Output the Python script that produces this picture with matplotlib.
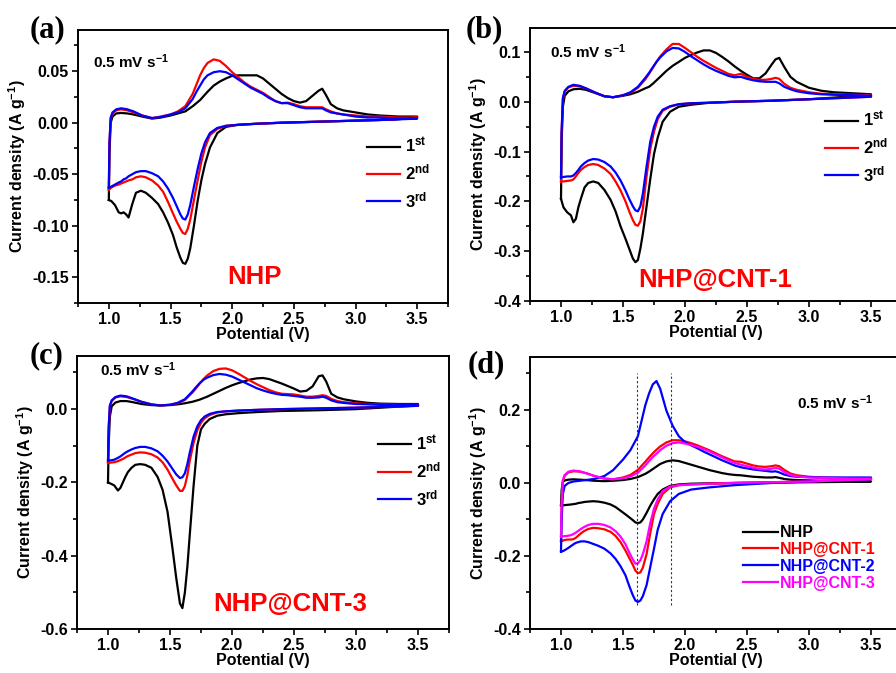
import matplotlib
matplotlib.use('Agg')
import matplotlib.pyplot as plt
from matplotlib.ticker import MultipleLocator, FormatStrFormatter

plt.rcParams.update({
    'font.family': ['Liberation Sans', 'DejaVu Sans'],
    'font.weight': 'bold',
    'axes.labelweight': 'bold',
    'mathtext.fontset': 'custom',
    'mathtext.rm': 'Liberation Sans:bold',
    'mathtext.bf': 'Liberation Sans:bold',
    'mathtext.it': 'Liberation Sans:bold:italic',
    'mathtext.default': 'rm',
    'axes.unicode_minus': False,
})

# ---------------- data (potential grids, V) ----------------
V_UP = [1.00, 1.005, 1.015, 1.03, 1.06, 1.10, 1.15, 1.20, 1.27, 1.35, 1.42, 1.50, 1.56, 1.62, 1.68,
        1.71, 1.74, 1.77, 1.80, 1.85, 1.90, 1.95, 2.00, 2.05, 2.10, 2.15, 2.20, 2.25, 2.30, 2.35,
        2.40, 2.45, 2.50, 2.55, 2.60, 2.65, 2.70, 2.73, 2.76, 2.80, 2.85, 2.90, 3.00, 3.10, 3.20,
        3.35, 3.50]
V_DN = [3.50, 3.30, 3.00, 2.70, 2.40, 2.20, 2.05, 1.95, 1.88, 1.82, 1.78, 1.75, 1.72, 1.69, 1.66,
        1.64, 1.62, 1.60, 1.58, 1.55, 1.52, 1.48, 1.44, 1.40, 1.35, 1.30, 1.26, 1.22, 1.19, 1.16,
        1.14, 1.12, 1.10, 1.08, 1.05, 1.02, 1.00]

# (a) NHP, cycles 1-3
A1_UP = [-0.075, -0.030, 0.000, 0.006, 0.009, 0.0095, 0.009, 0.008, 0.006, 0.004, 0.005, 0.007, 0.009, 0.011, 0.016,
         0.019, 0.022, 0.026, 0.030, 0.036, 0.040, 0.043, 0.0455, 0.046, 0.046, 0.046, 0.046, 0.043, 0.038, 0.033,
         0.028, 0.024, 0.021, 0.0195, 0.021, 0.026, 0.031, 0.033, 0.027, 0.018, 0.014, 0.012, 0.010, 0.008, 0.007,
         0.006, 0.006]
A1_DN = [0.005, 0.003, 0.002, 0.001, 0.000, -0.001, -0.002, -0.004, -0.010, -0.024, -0.040, -0.056, -0.076, -0.100, -0.122,
         -0.132, -0.137, -0.136, -0.131, -0.121, -0.109, -0.097, -0.087, -0.079, -0.073, -0.068, -0.066, -0.068, -0.079, -0.092,
         -0.089, -0.087, -0.088, -0.087, -0.080, -0.076, -0.075]
A2_UP = [-0.065, -0.020, 0.004, 0.009, 0.012, 0.013, 0.012, 0.010, 0.007, 0.0045, 0.006, 0.008, 0.011, 0.016, 0.028,
         0.037, 0.046, 0.053, 0.058, 0.0615, 0.060, 0.055, 0.049, 0.044, 0.039, 0.035, 0.032, 0.029, 0.025, 0.021,
         0.019, 0.0195, 0.018, 0.016, 0.015, 0.015, 0.015, 0.015, 0.013, 0.011, 0.009, 0.008, 0.007, 0.006, 0.006,
         0.005, 0.005]
A2_DN = [0.005, 0.003, 0.002, 0.001, 0.000, -0.001, -0.002, -0.003, -0.006, -0.012, -0.024, -0.038, -0.056, -0.075, -0.094,
         -0.103, -0.108, -0.107, -0.103, -0.096, -0.088, -0.077, -0.067, -0.061, -0.056, -0.053, -0.052, -0.053, -0.055, -0.056,
         -0.057, -0.058, -0.059, -0.060, -0.061, -0.063, -0.065]
A3_UP = [-0.063, -0.020, 0.005, 0.010, 0.013, 0.014, 0.013, 0.011, 0.007, 0.0045, 0.0055, 0.008, 0.010, 0.014, 0.023,
         0.030, 0.036, 0.042, 0.046, 0.049, 0.050, 0.049, 0.046, 0.042, 0.038, 0.034, 0.031, 0.028, 0.024, 0.021,
         0.019, 0.019, 0.017, 0.015, 0.014, 0.014, 0.014, 0.014, 0.012, 0.010, 0.009, 0.008, 0.006, 0.005, 0.005,
         0.004, 0.004]
A3_DN = [0.004, 0.003, 0.002, 0.001, 0.000, -0.001, -0.002, -0.003, -0.005, -0.010, -0.019, -0.030, -0.045, -0.062, -0.080,
         -0.089, -0.094, -0.093, -0.089, -0.081, -0.073, -0.064, -0.057, -0.052, -0.049, -0.047, -0.047, -0.048, -0.050, -0.052,
         -0.054, -0.055, -0.057, -0.058, -0.060, -0.062, -0.063]

# (b) NHP@CNT-1, cycles 1-3
B1_UP = [-0.195, -0.080, -0.010, 0.012, 0.021, 0.025, 0.026, 0.024, 0.018, 0.011, 0.009, 0.012, 0.015, 0.020, 0.027,
         0.030, 0.036, 0.043, 0.050, 0.062, 0.072, 0.080, 0.088, 0.094, 0.099, 0.103, 0.103, 0.098, 0.090, 0.081,
         0.071, 0.062, 0.054, 0.047, 0.047, 0.057, 0.075, 0.085, 0.088, 0.070, 0.050, 0.040, 0.028, 0.022, 0.019,
         0.017, 0.015]
B1_DN = [0.012, 0.010, 0.005, 0.002, 0.000, -0.002, -0.006, -0.010, -0.020, -0.040, -0.072, -0.105, -0.155, -0.210, -0.265,
         -0.295, -0.318, -0.322, -0.315, -0.295, -0.275, -0.250, -0.220, -0.197, -0.177, -0.163, -0.160, -0.163, -0.172, -0.195,
         -0.212, -0.235, -0.242, -0.228, -0.222, -0.212, -0.195]
B2_UP = [-0.160, -0.060, 0.005, 0.020, 0.029, 0.032, 0.031, 0.027, 0.019, 0.011, 0.009, 0.013, 0.018, 0.028, 0.045,
         0.056, 0.068, 0.080, 0.091, 0.105, 0.116, 0.116, 0.108, 0.099, 0.090, 0.082, 0.075, 0.068, 0.062, 0.056,
         0.053, 0.056, 0.050, 0.046, 0.044, 0.044, 0.046, 0.048, 0.046, 0.036, 0.028, 0.024, 0.019, 0.016, 0.015,
         0.014, 0.013]
B2_DN = [0.010, 0.008, 0.005, 0.002, 0.000, -0.002, -0.003, -0.005, -0.010, -0.018, -0.035, -0.060, -0.095, -0.150, -0.215,
         -0.240, -0.249, -0.247, -0.238, -0.220, -0.200, -0.178, -0.160, -0.145, -0.134, -0.127, -0.125, -0.127, -0.131, -0.137,
         -0.143, -0.150, -0.156, -0.158, -0.159, -0.160, -0.160]
B3_UP = [-0.152, -0.060, 0.008, 0.022, 0.030, 0.034, 0.032, 0.027, 0.019, 0.011, 0.009, 0.013, 0.019, 0.030, 0.048,
         0.058, 0.069, 0.080, 0.089, 0.101, 0.108, 0.107, 0.100, 0.091, 0.083, 0.075, 0.068, 0.062, 0.057, 0.052,
         0.049, 0.050, 0.046, 0.043, 0.041, 0.040, 0.040, 0.040, 0.037, 0.030, 0.025, 0.021, 0.017, 0.015, 0.014,
         0.013, 0.012]
B3_DN = [0.010, 0.008, 0.005, 0.002, 0.000, -0.002, -0.003, -0.005, -0.009, -0.016, -0.030, -0.050, -0.080, -0.130, -0.185,
         -0.210, -0.220, -0.218, -0.210, -0.195, -0.178, -0.158, -0.142, -0.130, -0.121, -0.116, -0.115, -0.118, -0.123, -0.130,
         -0.137, -0.143, -0.148, -0.150, -0.150, -0.151, -0.152]

# (c) NHP@CNT-3, cycles 1-3
C1_UP = [-0.200, -0.100, -0.020, 0.008, 0.018, 0.022, 0.022, 0.019, 0.014, 0.011, 0.010, 0.011, 0.013, 0.016, 0.020,
         0.023, 0.026, 0.030, 0.034, 0.042, 0.050, 0.058, 0.065, 0.071, 0.076, 0.081, 0.084, 0.085, 0.082, 0.076,
         0.070, 0.063, 0.056, 0.048, 0.050, 0.062, 0.090, 0.092, 0.075, 0.042, 0.032, 0.027, 0.021, 0.017, 0.015,
         0.014, 0.014]
C1_DN = [0.010, 0.006, 0.000, -0.003, -0.005, -0.008, -0.011, -0.014, -0.018, -0.027, -0.040, -0.055, -0.100, -0.210, -0.340,
         -0.430, -0.500, -0.543, -0.530, -0.460, -0.380, -0.280, -0.220, -0.185, -0.160, -0.152, -0.150, -0.152, -0.160, -0.172,
         -0.185, -0.200, -0.215, -0.222, -0.208, -0.203, -0.200]
C2_UP = [-0.147, -0.060, 0.008, 0.022, 0.032, 0.035, 0.033, 0.028, 0.020, 0.013, 0.010, 0.012, 0.016, 0.025, 0.045,
         0.057, 0.070, 0.082, 0.092, 0.104, 0.110, 0.111, 0.106, 0.097, 0.087, 0.077, 0.068, 0.060, 0.052, 0.046,
         0.042, 0.041, 0.040, 0.037, 0.034, 0.034, 0.036, 0.038, 0.036, 0.028, 0.022, 0.019, 0.016, 0.014, 0.013,
         0.012, 0.012]
C2_DN = [0.009, 0.007, 0.004, 0.002, 0.000, -0.002, -0.004, -0.006, -0.009, -0.016, -0.025, -0.037, -0.058, -0.092, -0.140,
         -0.180, -0.210, -0.223, -0.223, -0.208, -0.190, -0.165, -0.145, -0.132, -0.123, -0.119, -0.118, -0.120, -0.124, -0.128,
         -0.132, -0.136, -0.139, -0.142, -0.145, -0.146, -0.147]
C3_UP = [-0.140, -0.050, 0.010, 0.024, 0.033, 0.037, 0.035, 0.029, 0.020, 0.013, 0.010, 0.012, 0.017, 0.027, 0.048,
         0.060, 0.071, 0.080, 0.086, 0.093, 0.096, 0.094, 0.089, 0.081, 0.073, 0.065, 0.057, 0.051, 0.046, 0.042,
         0.039, 0.038, 0.036, 0.034, 0.031, 0.031, 0.032, 0.034, 0.031, 0.024, 0.019, 0.017, 0.014, 0.013, 0.012,
         0.011, 0.011]
C3_DN = [0.009, 0.007, 0.004, 0.002, 0.000, -0.002, -0.004, -0.006, -0.008, -0.013, -0.020, -0.030, -0.047, -0.075, -0.118,
         -0.150, -0.175, -0.186, -0.188, -0.178, -0.163, -0.143, -0.127, -0.115, -0.107, -0.103, -0.103, -0.106, -0.110, -0.115,
         -0.119, -0.124, -0.129, -0.133, -0.138, -0.140, -0.140]

# (d) comparison of samples
D1_UP = [-0.062, -0.020, 0.003, 0.007, 0.009, 0.010, 0.009, 0.008, 0.006, 0.005, 0.006, 0.008, 0.011, 0.016, 0.025,
         0.031, 0.038, 0.045, 0.052, 0.059, 0.062, 0.060, 0.055, 0.050, 0.045, 0.040, 0.035, 0.031, 0.027, 0.024,
         0.022, 0.021, 0.019, 0.017, 0.016, 0.015, 0.015, 0.016, 0.014, 0.011, 0.009, 0.008, 0.007, 0.006, 0.005,
         0.005, 0.004]
D1_DN = [0.004, 0.003, 0.002, 0.001, 0.000, -0.001, -0.002, -0.004, -0.008, -0.018, -0.030, -0.045, -0.062, -0.082, -0.100,
         -0.108, -0.110, -0.108, -0.102, -0.094, -0.086, -0.076, -0.066, -0.059, -0.054, -0.051, -0.050, -0.051, -0.052, -0.054,
         -0.055, -0.057, -0.058, -0.059, -0.060, -0.061, -0.062]
D2_UP = [-0.160, -0.060, 0.005, 0.020, 0.029, 0.032, 0.031, 0.027, 0.019, 0.012, 0.010, 0.015, 0.022, 0.036, 0.058,
         0.070, 0.081, 0.091, 0.100, 0.111, 0.117, 0.117, 0.114, 0.109, 0.103, 0.096, 0.089, 0.081, 0.073, 0.066,
         0.059, 0.058, 0.053, 0.048, 0.045, 0.044, 0.046, 0.048, 0.046, 0.036, 0.026, 0.021, 0.017, 0.015, 0.014,
         0.013, 0.013]
D2_DN = [0.010, 0.008, 0.004, 0.002, 0.000, -0.002, -0.004, -0.006, -0.012, -0.030, -0.057, -0.085, -0.137, -0.195, -0.232,
         -0.245, -0.247, -0.240, -0.225, -0.205, -0.185, -0.162, -0.145, -0.134, -0.127, -0.124, -0.123, -0.126, -0.131, -0.138,
         -0.144, -0.150, -0.154, -0.155, -0.155, -0.157, -0.160]
D3_UP = [-0.188, -0.100, -0.030, -0.008, 0.000, 0.004, 0.006, 0.008, 0.011, 0.019, 0.035, 0.064, 0.090, 0.128, 0.213,
         0.245, 0.270, 0.279, 0.258, 0.198, 0.157, 0.128, 0.112, 0.103, 0.095, 0.086, 0.078, 0.070, 0.062, 0.055,
         0.048, 0.043, 0.040, 0.037, 0.035, 0.033, 0.031, 0.032, 0.029, 0.023, 0.019, 0.017, 0.016, 0.015, 0.015,
         0.015, 0.015]
D3_DN = [0.010, 0.008, 0.004, 0.000, -0.006, -0.012, -0.018, -0.030, -0.050, -0.085, -0.128, -0.180, -0.230, -0.280, -0.310,
         -0.322, -0.326, -0.322, -0.308, -0.282, -0.253, -0.228, -0.208, -0.193, -0.180, -0.172, -0.167, -0.162, -0.160, -0.160,
         -0.162, -0.164, -0.168, -0.173, -0.180, -0.186, -0.188]
D4_UP = [-0.147, -0.060, 0.008, 0.022, 0.031, 0.034, 0.032, 0.027, 0.019, 0.012, 0.010, 0.013, 0.018, 0.028, 0.048,
         0.060, 0.071, 0.080, 0.090, 0.102, 0.109, 0.111, 0.108, 0.104, 0.099, 0.093, 0.086, 0.078, 0.070, 0.062,
         0.055, 0.050, 0.046, 0.042, 0.038, 0.037, 0.039, 0.041, 0.039, 0.030, 0.022, 0.018, 0.015, 0.014, 0.013,
         0.012, 0.012]
D4_DN = [0.010, 0.008, 0.004, 0.002, 0.000, -0.002, -0.004, -0.006, -0.010, -0.022, -0.045, -0.070, -0.110, -0.160, -0.195,
         -0.212, -0.220, -0.221, -0.210, -0.190, -0.168, -0.147, -0.132, -0.122, -0.115, -0.112, -0.112, -0.115, -0.120, -0.126,
         -0.131, -0.136, -0.140, -0.143, -0.145, -0.146, -0.147]

CYCLE_LABELS = ['1$^{st}$', '2$^{nd}$', '3$^{rd}$']
SAMPLE_LABELS = ['NHP', 'NHP@CNT-1', 'NHP@CNT-2', 'NHP@CNT-3']
PANEL_TAGS = ['(a)', '(b)', '(c)', '(d)']
PANEL_NAMES = ['NHP', 'NHP@CNT-1', 'NHP@CNT-3', None]
RATE_TEXT = '0.5 mV s$^{-1}$'
PEAK_GUIDES = [1.61, 1.89]
X_TICKS = [1.0, 1.5, 2.0, 2.5, 3.0, 3.5]

# ---------------- figure ----------------
W, H = 896, 673
fig = plt.figure(figsize=(W / 100, H / 100), dpi=100)


def rect(l, t, r, b):
    return [l / W, 1 - b / H, (r - l) / W, (b - t) / H]


axes = [fig.add_axes(rect(78, 30, 448, 303)),
        fig.add_axes(rect(530, 28, 902, 301)),
        fig.add_axes(rect(77, 356, 449, 629)),
        fig.add_axes(rect(530, 357, 902, 629))]

ylims = [(-0.175, 0.09), (-0.4, 0.148), (-0.6, 0.145), (-0.4, 0.345)]
ymaj = [0.05, 0.1, 0.2, 0.2]
yfmt = ['%.2f', '%.1f', '%.1f', '%.1f']

cyc_colors = ['#000000', '#ff0000', '#0000ff']
samp_colors = ['#000000', '#ff0000', '#0000ff', '#ff00ff']

panel_data = [
    [(A1_UP, A1_DN), (A2_UP, A2_DN), (A3_UP, A3_DN)],
    [(B1_UP, B1_DN), (B2_UP, B2_DN), (B3_UP, B3_DN)],
    [(C1_UP, C1_DN), (C2_UP, C2_DN), (C3_UP, C3_DN)],
    [(D1_UP, D1_DN), (D2_UP, D2_DN), (D3_UP, D3_DN), (D4_UP, D4_DN)],
]

for i, ax in enumerate(axes):
    if i < 3:
        labels, colors = CYCLE_LABELS, cyc_colors
    else:
        labels, colors = SAMPLE_LABELS, samp_colors
    for (up, dn), lab, col in zip(panel_data[i], labels, colors):
        ax.plot(V_UP + V_DN, up + dn, color=col, lw=1.6, label=lab,
                solid_joinstyle='round')
    ax.set_xlim(0.75, 3.75)
    ax.set_ylim(*ylims[i])
    ax.set_xticks(X_TICKS)
    ax.xaxis.set_minor_locator(MultipleLocator(0.25))
    ax.yaxis.set_major_locator(MultipleLocator(ymaj[i]))
    ax.yaxis.set_minor_locator(MultipleLocator(ymaj[i] / 2))
    ax.xaxis.set_major_formatter(FormatStrFormatter('%.1f'))
    ax.yaxis.set_major_formatter(FormatStrFormatter(yfmt[i]))
    ax.tick_params(which='both', direction='out', top=False, right=False,
                   labelsize=11.5, width=1.2, pad=2)
    ax.tick_params(which='major', length=4.5)
    ax.tick_params(which='minor', length=2.8)
    for sp in ax.spines.values():
        sp.set_linewidth(1.4)
    ax.set_xlabel('Potential (V)', fontsize=11.5, labelpad=0)
    ax.set_ylabel('Current density (A g$^{-1}$)', fontsize=11.5, labelpad=3)

# vertical peak guides in (d)
axes[3].vlines(PEAK_GUIDES, -0.335, 0.30, colors='#333333', linestyles=(0, (2, 2)), lw=0.8)

# legends
leg_pos = [(0.781, 0.476), (0.793, 0.564), (0.809, 0.579)]
for ax, pos in zip(axes[:3], leg_pos):
    ax.legend(loc='center left', bbox_to_anchor=pos, frameon=False, fontsize=12,
              handlelength=2.0, handletextpad=0.3, labelspacing=0.45,
              borderpad=0, borderaxespad=0)
axes[3].legend(loc='center left', bbox_to_anchor=(0.573, 0.261), frameon=False,
               fontsize=11.5, handlelength=2.2, handletextpad=0.1, labelspacing=0.12,
               borderpad=0, borderaxespad=0, labelcolor='linecolor')

# scan-rate annotations
rate_pos = [(0.041, 0.883), (0.053, 0.912), (0.062, 0.949), (0.718, 0.831)]
for ax, pos in zip(axes, rate_pos):
    ax.text(pos[0], pos[1], RATE_TEXT, transform=ax.transAxes, fontsize=11,
            ha='left', va='center')

# sample names
name_pos = [(0.478, 0.095), (0.497, 0.077), (0.573, 0.092)]
for ax, name, pos in zip(axes[:3], PANEL_NAMES[:3], name_pos):
    ax.text(pos[0], pos[1], name, transform=ax.transAxes, fontsize=18.5,
            color='#ff0000', ha='center', va='center')

# panel tags
tag_pos = [(30, 30), (466, 30), (30, 356), (468, 365)]
for tag, (px, py) in zip(PANEL_TAGS, tag_pos):
    fig.text(px / W, 1 - py / H, tag, fontsize=22, family='Liberation Serif',
             weight='bold', ha='left', va='center')

fig.savefig('out.png', dpi=100)
